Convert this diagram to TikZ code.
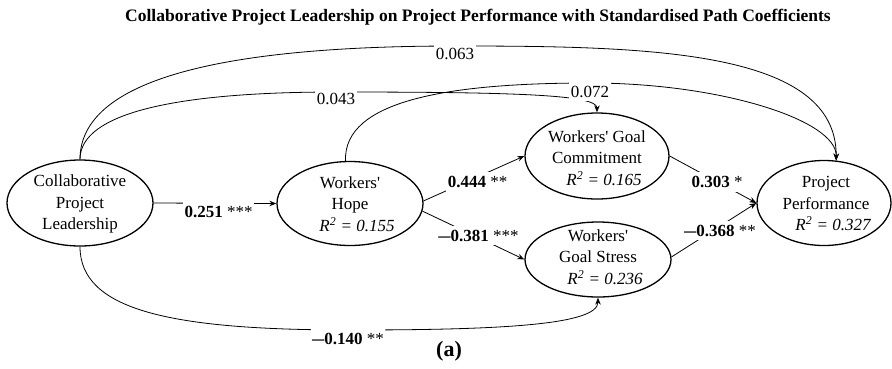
\documentclass[tikz,border=0pt]{standalone}
\usepackage{fontspec}
\setmainfont{Liberation Serif}
\usetikzlibrary{shapes.geometric,arrows.meta}
\newcommand{\rsq}[1]{\hspace*{14pt}{\itshape R\textsuperscript{2} = #1}}
\newcommand{\apo}{\textquotesingle}
\newcommand{\mydash}{\scalebox{0.72}[1]{\textemdash}}
\begin{document}
\begin{tikzpicture}[x=1pt,y=-1pt,
  latent/.style={draw, ellipse, line width=1.3pt, inner sep=0pt},
  ltext/.style={align=center, inner sep=0pt, font=\fontsize{17}{21.5}\selectfont},
  conn/.style={line width=0.8pt, -{Stealth[length=7pt,width=5.5pt]}},
  coef/.style={fill=white, inner xsep=1.5pt, inner ysep=4pt, font=\fontsize{17}{21}\selectfont},
]
\useasboundingbox (0,0) rectangle (892,368);

% title
\node[anchor=base, inner sep=0pt, font=\fontsize{17.5}{20}\selectfont\bfseries] (title) at (478,21.5)
  {Collaborative Project Leadership on Project Performance with Standardised Path Coefficients};

% latent variables
\node[latent, minimum width=146pt, minimum height=86pt] (cpl) at (80,203) {};
\node[latent, minimum width=146pt, minimum height=84pt] (hope) at (350,203.5) {};
\node[latent, minimum width=144pt, minimum height=86pt] (gc) at (597,156) {};
\node[latent, minimum width=146pt, minimum height=75pt] (gs) at (598,259.5) {};
\node[latent, minimum width=134pt, minimum height=85pt] (perf) at (824,203) {};

\node[ltext] (cplt) at (80,204) {Collaborative\\Project\\Leadership};
\node[ltext] (hopet) at (350,204) {Workers\apo\\Hope\\\rsq{0.155}};
\node[ltext] (gct) at (597,158) {Workers\apo{} Goal\\Commitment\\\rsq{0.165}};
\node[ltext] (gst) at (598,257) {Workers\apo\\Goal Stress\\\rsq{0.236}};
\node[ltext] (perft) at (826,203.5) {Project\\Performance\\\rsq{0.327}};

% straight paths
\draw[conn] (cpl.east) -- (hope.west);
\draw[conn] (hope.2) -- (gc.west);
\draw[conn] (hope.-6) -- (gs.west);
\draw[conn] (gc.east) -- (perf.west);
\draw[conn] (gs.2) -- (perf.west);

% curved paths
\draw[conn] (cpl.north) .. controls (80,80) and (220,46) .. (455,46)
  .. controls (650,46) and (837,50) .. (perf.74);
\draw[conn] (cpl.north) .. controls (80,112) and (180,92) .. (336,92)
  .. controls (520,92) and (597,95) .. (gc.north);
\draw[conn] (hope.96) .. controls (343,100) and (450,83) .. (590,83)
  .. controls (720,83) and (837,120) .. (perf.74);
\draw[conn] (cpl.south) .. controls (80,310) and (170,330) .. (350,330)
  .. controls (500,330) and (598,325) .. (gs.south);

% coefficients
\node[coef] (c063) at (455,53.5) {0.063};
\node[coef] (c043) at (336,99) {0.043};
\node[coef] (c072) at (590,91.5) {0.072};
\node[coef] (c251) at (218.5,212) {\textbf{0.251} ***};
\node[coef] (c444) at (477.5,182) {\textbf{0.444} **};
\node[coef] (c381) at (478.5,235.5) {\textbf{\mydash0.381} ***};
\node[coef] (c303) at (717,182) {\textbf{0.303} *};
\node[coef] (c368) at (720,230.5) {\textbf{\mydash0.368} **};
\node[coef] (c140) at (348,338.5) {\textbf{\mydash0.140} **};

\node[inner sep=0pt, font=\fontsize{22}{24}\selectfont\bfseries] (sub) at (449,351) {(a)};
\end{tikzpicture}
\end{document}
